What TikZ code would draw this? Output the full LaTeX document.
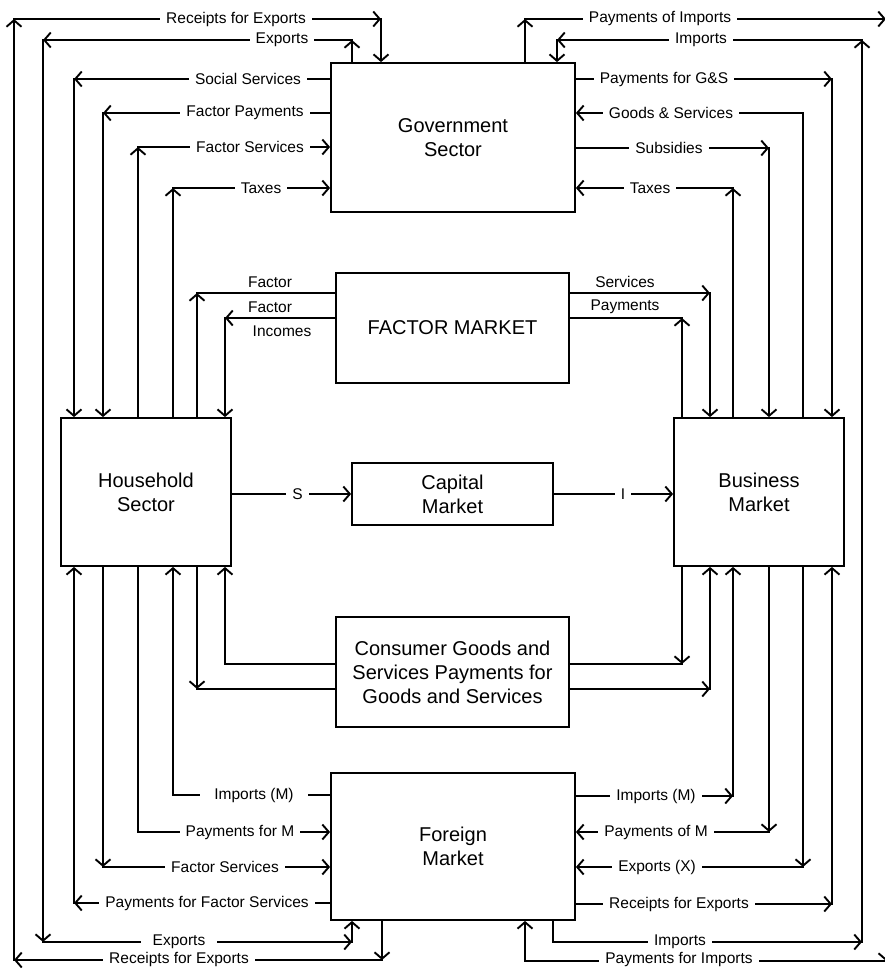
\documentclass[tikz,border=0pt]{standalone}
\usepackage{fontspec}
\setmainfont{Liberation Sans}
\usetikzlibrary{arrows.meta}
\tikzset{
  box/.style={draw=black,line width=1.8pt,align=center,inner sep=0pt,font=\fontsize{20}{24}\selectfont},
  flow/.style={draw=black,line width=1.9pt,line cap=rect},
  arr/.style={flow,-{Straight Barb[length=6.5pt,width=15pt]}},
  lbl/.style={fill=white,inner xsep=6pt,inner ysep=1pt,font=\fontsize{15.5}{18}\selectfont},
  note/.style={inner sep=0pt,font=\fontsize{15.5}{18}\selectfont},
}

\begin{document}
\begin{tikzpicture}[x=1pt,y=-1pt]
\useasboundingbox (0,0) rectangle (885,969);
\node[box,minimum width=244pt,minimum height=149pt] (gov) at (453,137.5) {Government\\Sector};
\node[box,minimum width=233pt,minimum height=110pt] (fac) at (452.5,328) {FACTOR MARKET};
\node[box,minimum width=170pt,minimum height=148pt] (hh) at (146,492) {Household\\Sector};
\node[box,minimum width=201pt,minimum height=62pt] (cap) at (452.5,494) {Capital\\Market};
\node[box,minimum width=170pt,minimum height=148pt] (bus) at (759,492) {Business\\Market};
\node[box,minimum width=233pt,minimum height=110pt] (cons) at (452.5,672) {Consumer Goods and\\Services Payments for\\Goods and Services};
\node[box,minimum width=244pt,minimum height=147pt] (frn) at (453,846.5) {Foreign\\Market};

\foreach \c/\x/\y in {re1/382/960,re2/14/960,re3/14/19,re4/381/19,
  ex1/352/40,ex2/43/40,ex3/43/942,ex4/352/942,
  ss/74/79,fp/103/113,fs/138/147,tx/173/188,
  fa/197/293,fi/225/318,sv/710/293,py/682/318,
  pi1/525/19,pi2/886/19,pi3/886/961,pi4/525/961,
  im1/553/942,im2/862/942,im3/862/40,im4/557/40,
  pg/832/79,gs/803/113,sb/769/148,tr/733/188,
  cg1/225/664,cg2/197/689,cb1/682/664,cb2/710/689,
  ml/173/795,pm/138/832,fb/103/867,pf/74/903,
  mr/733/796,pr/769/832,xr/803/867,rr/832/904}
  \coordinate (\c) at (\x,\y);

\foreach \u/\v in {re1/re2,re2/re3,re3/re4,ex1/ex2,ex2/ex3,ex3/ex4,
  pi1/pi2,pi2/pi3,im1/im2,im2/im3,im3/im4}
  \draw[arr] (\u)--(\v);
\draw[flow] (pi3)--(pi4);

\draw[arr] (frn.south -| re1)--(re1);
\draw[arr] (re4)--(gov.north -| re4);
\draw[arr] (gov.north -| ex1)--(ex1);
\draw[arr] (ex4)--(frn.south -| ex4);
\draw[arr] (gov.north -| pi1)--(pi1);
\draw[arr] (pi4)--(frn.south -| pi4);
\draw[flow] (frn.south -| im1)--(im1);
\draw[arr] (im4)--(gov.north -| im4);

\draw[arr] (gov.west |- ss)--(ss); \draw[arr] (ss)--(hh.north -| ss);
\draw[arr] (gov.west |- fp)--(fp); \draw[arr] (fp)--(hh.north -| fp);
\draw[arr] (hh.north -| fs)--(fs); \draw[arr] (fs)--(gov.west |- fs);
\draw[arr] (hh.north -| tx)--(tx); \draw[arr] (tx)--(gov.west |- tx);
\draw[arr] (gov.east |- pg)--(pg); \draw[arr] (pg)--(bus.north -| pg);
\draw[flow] (bus.north -| gs)--(gs); \draw[arr] (gs)--(gov.east |- gs);
\draw[arr] (gov.east |- sb)--(sb); \draw[arr] (sb)--(bus.north -| sb);
\draw[arr] (bus.north -| tr)--(tr); \draw[arr] (tr)--(gov.east |- tr);

\draw[arr] (hh.north -| fa)--(fa); \draw[flow] (fa)--(fac.west |- fa);
\draw[arr] (fac.west |- fi)--(fi); \draw[arr] (fi)--(hh.north -| fi);
\draw[arr] (fac.east |- sv)--(sv); \draw[arr] (sv)--(bus.north -| sv);
\draw[arr] (bus.north -| py)--(py); \draw[flow] (py)--(fac.east |- py);

\draw[arr] (hh.east |- cap)--node[lbl,pos=.55]{S}(cap);
\draw[arr] (cap)--node[lbl,pos=.58]{I}(bus.west |- cap);

\draw[flow] (cons.west |- cg1)--(cg1); \draw[arr] (cg1)--(hh.south -| cg1);
\draw[arr] (hh.south -| cg2)--(cg2); \draw[flow] (cg2)--(cons.west |- cg2);
\draw[arr] (bus.south -| cb1)--(cb1); \draw[flow] (cb1)--(cons.east |- cb1);
\draw[arr] (cons.east |- cb2)--(cb2); \draw[arr] (cb2)--(bus.south -| cb2);

\draw[flow] (frn.west |- ml)--(ml); \draw[arr] (ml)--(hh.south -| ml);
\draw[flow] (hh.south -| pm)--(pm); \draw[arr] (pm)--(frn.west |- pm);
\draw[arr] (hh.south -| fb)--(fb); \draw[arr] (fb)--(frn.west |- fb);
\draw[arr] (frn.west |- pf)--(pf); \draw[arr] (pf)--(hh.south -| pf);
\draw[arr] (frn.east |- mr)--(mr); \draw[arr] (mr)--(bus.south -| mr);
\draw[arr] (bus.south -| pr)--(pr); \draw[arr] (pr)--(frn.east |- pr);
\draw[arr] (bus.south -| xr)--(xr); \draw[arr] (xr)--(frn.east |- xr);
\draw[arr] (frn.east |- rr)--(rr); \draw[arr] (rr)--(bus.south -| rr);

\node[lbl] (l1) at (236,19) {Receipts for Exports};
\node[lbl] (l2) at (282,40) {Exports};
\node[lbl] (l3) at (248,79) {Social Services};
\node[lbl] (l4) at (245,113) {Factor Payments};
\node[lbl] (l5) at (250,147) {Factor Services};
\node[lbl] (l6) at (261,188) {Taxes};
\node[lbl] (r1) at (660,19) {Payments of Imports};
\node[lbl] (r2) at (701,40) {Imports};
\node[lbl] (r3) at (664,79) {Payments for G\&S};
\node[lbl] (r4) at (671,113) {Goods \& Services};
\node[lbl] (r5) at (669,148) {Subsidies};
\node[lbl] (r6) at (650,188) {Taxes};
\node[note] (m1) at (270,282) {Factor};
\node[note] (m2) at (270,307) {Factor};
\node[note] (m3) at (282,331) {Incomes};
\node[note] (m4) at (625,282) {Services};
\node[note] (m5) at (625,307) {Payments};
\node[lbl,inner xsep=14pt] (b1) at (254,795) {Imports (M)};
\node[lbl] (b2) at (240,832) {Payments for M};
\node[lbl] (b3) at (225,867) {Factor Services};
\node[lbl] (b4) at (207,903) {Payments for Factor Services};
\node[lbl,inner xsep=12pt] (b5) at (179,942) {Exports};
\node[lbl] (b6) at (179,959) {Receipts for Exports};
\node[lbl] (c1) at (656,796) {Imports (M)};
\node[lbl] (c2) at (656,832) {Payments of M};
\node[lbl] (c3) at (657,867) {Exports (X)};
\node[lbl] (c4) at (679,904) {Receipts for Exports};
\node[lbl] (c5) at (680,942) {Imports};
\node[lbl,inner ysep=0pt] (c6) at (679,959) {Payments for Imports};
\end{tikzpicture}
\end{document}
